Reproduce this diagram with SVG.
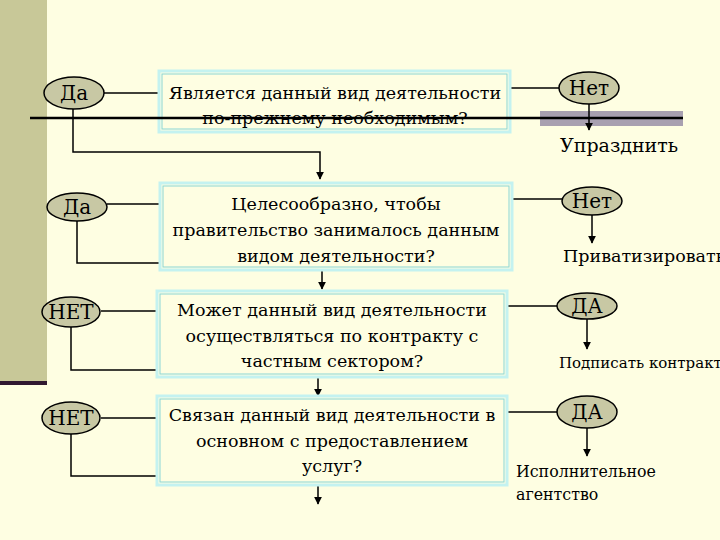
<svg xmlns="http://www.w3.org/2000/svg" width="720" height="540" viewBox="0 0 720 540">
<defs>
<marker id="arr" viewBox="0 0 10 10" refX="9" refY="5" markerWidth="8" markerHeight="8" markerUnits="userSpaceOnUse" orient="auto"><path d="M0,0 L10,5 L0,10 z" fill="#000"/></marker>
<style>
.bg{fill:#FEFEE2}
.box{fill:#FEFEE2;stroke:#C4F2F0;stroke-width:3}
.boxin{fill:none;stroke:#8AD6D6;stroke-width:1}
.ell{fill:#C8C8A4;stroke:#000;stroke-width:1.5}
text{font-family:'DejaVu Serif',serif;fill:#000}
.t{font-size:17.5px}
.e{font-size:20px;text-anchor:middle}
.c{text-anchor:middle}
.ln{stroke:#000;stroke-width:1.3;fill:none}
.ar{stroke:#000;stroke-width:1.5;fill:none;marker-end:url(#arr)}
</style>
</defs>
<rect class="bg" x="0" y="0" width="720" height="540"/>
<rect x="0" y="0" width="47" height="382" fill="#C8C898"/>
<rect x="0" y="381" width="47" height="4" fill="#301830"/>
<rect x="540" y="111" width="143" height="15" fill="#A8A0B0"/>

<g id="connectors">
<line class="ln" x1="104" y1="93" x2="159" y2="93"/>
<path class="ar" d="M73,109 V152 H320 V179"/>
<line class="ln" x1="510" y1="88" x2="559" y2="88"/>
<line class="ar" x1="589" y1="104" x2="589" y2="130"/>
<line class="ln" x1="107" y1="204" x2="160" y2="204"/>
<path class="ar" d="M77,220 V263 H322 V289"/>
<line class="ln" x1="512" y1="199" x2="563" y2="199"/>
<line class="ar" x1="592" y1="215" x2="592" y2="243"/>
<line class="ln" x1="101" y1="311" x2="157" y2="311"/>
<path class="ar" d="M71,327 V370 H318 V396"/>
<line class="ln" x1="507" y1="306" x2="557" y2="306"/>
<line class="ar" x1="587" y1="319" x2="587" y2="349"/>
<line class="ln" x1="101" y1="418" x2="157" y2="418"/>
<path class="ar" d="M71,434 V476 H318 V504"/>
<line class="ln" x1="507" y1="412" x2="557" y2="412"/>
<line class="ar" x1="587" y1="428" x2="587" y2="456"/>
</g>

<g id="q1">
<rect class="box" x="159" y="71" width="351" height="61"/>
<rect class="boxin" x="162" y="74" width="345" height="55"/>
<text class="t c" x="335" y="99">Является данный вид деятельности</text>
<text class="t c" x="335" y="124">по-прежнему необходимым?</text>
</g>
<line x1="30" y1="118" x2="683" y2="118" stroke="#000" stroke-width="2.5"/>

<g id="yes1"><ellipse class="ell" cx="74" cy="93" rx="30" ry="16"/><text class="e" x="74" y="100">Да</text></g>
<g id="no1"><ellipse class="ell" cx="589" cy="88" rx="30" ry="16"/><text class="e" x="589" y="95">Нет</text></g>
<g id="r1"><text class="t" x="560" y="152" style="font-size:19px">Упразднить</text></g>

<g id="q2">
<rect class="box" x="160" y="183" width="352" height="87"/>
<rect class="boxin" x="163" y="186" width="346" height="81"/>
<text class="t c" x="336" y="210">Целесообразно, чтобы</text>
<text class="t c" x="336" y="236">правительство занималось данным</text>
<text class="t c" x="336" y="262">видом деятельности?</text>
</g>
<g id="yes2"><ellipse class="ell" cx="77" cy="207" rx="30" ry="14"/><text class="e" x="77" y="214">Да</text></g>
<g id="no2"><ellipse class="ell" cx="592" cy="201" rx="30" ry="14"/><text class="e" x="592" y="208">Нет</text></g>
<g id="r2"><text class="t" x="563" y="262">Приватизировать</text></g>

<g id="q3">
<rect class="box" x="157" y="291" width="350" height="86"/>
<rect class="boxin" x="160" y="294" width="344" height="80"/>
<text class="t c" x="332" y="316">Может данный вид деятельности</text>
<text class="t c" x="332" y="342">осуществляться по контракту с</text>
<text class="t c" x="332" y="367">частным сектором?</text>
</g>
<g id="no3"><ellipse class="ell" cx="71" cy="312" rx="29" ry="15"/><text class="e" x="71" y="319">НЕТ</text></g>
<g id="yes3"><ellipse class="ell" cx="587" cy="306" rx="30" ry="13"/><text class="e" x="587" y="313">ДА</text></g>
<g id="r3"><text class="t" x="559" y="368" style="font-size:15px">Подписать контракт</text></g>

<g id="q4">
<rect class="box" x="157" y="396" width="350" height="89"/>
<rect class="boxin" x="160" y="399" width="344" height="83"/>
<text class="t c" x="332" y="421">Связан данный вид деятельности в</text>
<text class="t c" x="332" y="447">основном с предоставлением</text>
<text class="t c" x="332" y="472">услуг?</text>
</g>
<g id="no4"><ellipse class="ell" cx="71" cy="418" rx="29" ry="16"/><text class="e" x="71" y="425">НЕТ</text></g>
<g id="yes4"><ellipse class="ell" cx="587" cy="412" rx="30" ry="16"/><text class="e" x="587" y="419">ДА</text></g>
<g id="r4">
<text class="t" x="516" y="477" style="font-size:15.8px">Исполнительное</text>
<text class="t" x="516" y="500" style="font-size:15.8px">агентство</text>
</g>
</svg>
